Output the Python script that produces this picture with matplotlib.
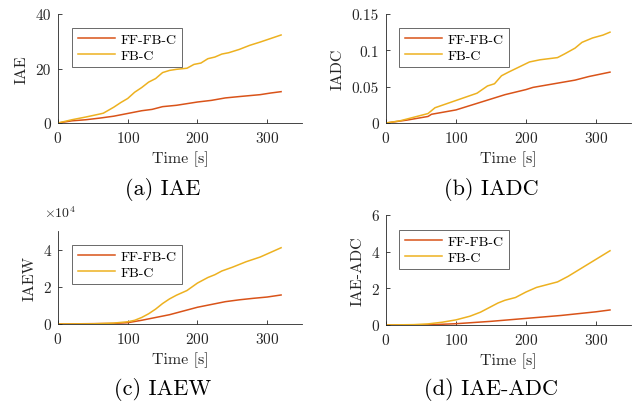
import matplotlib
matplotlib.use('Agg')
import matplotlib.pyplot as plt
from matplotlib.ticker import FuncFormatter

plt.rcParams['font.family'] = 'serif'
plt.rcParams['font.serif'] = ['cmr10']
plt.rcParams['mathtext.fontset'] = 'cm'
plt.rcParams['axes.formatter.use_mathtext'] = True

# colori stile MATLAB
c_ff = '#D95319'
c_fb = '#EDB120'
grey = '#262626'

# IAE
t_iae_ff = [0, 20, 40, 60, 80, 100, 120, 135, 150, 170, 200, 220, 240, 260, 290, 305, 320]
iae_ff = [0, 0.8, 1.2, 1.8, 2.5, 3.5, 4.5, 5.0, 6.0, 6.5, 7.7, 8.3, 9.2, 9.7, 10.4, 11.0, 11.5]
t_iae_fb = [0, 20, 40, 60, 65, 80, 90, 100, 110, 120, 130, 140, 150, 160, 170, 185, 195, 205,
            215, 225, 235, 245, 260, 275, 290, 305, 320]
iae_fb = [0, 1.2, 2.2, 3.3, 3.6, 5.8, 7.5, 9.0, 11.3, 13.0, 15.0, 16.3, 18.5, 19.3, 19.7, 20.1,
          21.5, 22.0, 23.6, 24.2, 25.3, 25.8, 27.0, 28.5, 29.7, 31.0, 32.3]

# IADC
t_iadc_ff = [0, 30, 60, 65, 100, 110, 130, 150, 170, 200, 210, 240, 270, 290, 320]
iadc_ff = [0, 0.004, 0.009, 0.012, 0.018, 0.021, 0.027, 0.033, 0.039, 0.046, 0.049, 0.054,
           0.059, 0.064, 0.070]
t_iadc_fb = [0, 20, 40, 60, 70, 85, 100, 115, 130, 145, 155, 165, 175, 190, 205, 220, 245, 255,
             270, 280, 295, 310, 320]
iadc_fb = [0, 0.003, 0.008, 0.013, 0.021, 0.026, 0.031, 0.036, 0.041, 0.051, 0.054, 0.065,
           0.070, 0.077, 0.084, 0.087, 0.090, 0.095, 0.103, 0.111, 0.117, 0.121, 0.125]

# IAEW (x 1e4)
t_iaew_ff = [0, 80, 100, 120, 140, 160, 180, 200, 220, 240, 260, 280, 300, 320]
iaew_ff = [0, 300, 700, 2000, 3500, 5000, 7000, 9000, 10500, 12000, 13000, 13800, 14500, 15600]
t_iaew_fb = [0, 50, 80, 100, 110, 120, 130, 140, 150, 160, 170, 185, 200, 215, 225, 235, 250,
             270, 290, 305, 320]
iaew_fb = [0, 100, 500, 1200, 2000, 3500, 5500, 8000, 11000, 13500, 15500, 18000, 22000, 25000,
           26500, 28500, 30500, 33500, 36000, 38500, 41000]

# IAE-ADC
t_ead_ff = [0, 60, 100, 150, 200, 250, 300, 320]
ead_ff = [0, 0.01, 0.07, 0.2, 0.36, 0.52, 0.72, 0.82]
t_ead_fb = [0, 40, 60, 80, 100, 120, 135, 150, 160, 170, 185, 200, 215, 230, 245, 260, 275,
            290, 305, 320]
ead_fb = [0, 0.02, 0.06, 0.15, 0.28, 0.48, 0.7, 1.0, 1.2, 1.35, 1.5, 1.8, 2.05, 2.2, 2.35,
          2.65, 3.0, 3.35, 3.7, 4.05]

W, H = 633, 406
fig = plt.figure(figsize=(W / 100, H / 100), dpi=100)


def pannello(px, top, bottom, right, ylab, ylim, yticks, tff, yff, tfb, yfb, leg, caption, cap_x,
             cap_y, scala=1.0):
    ax = fig.add_axes([px / W, (H - bottom) / H, (right - px) / W, (bottom - top) / H])
    ax.plot(tff, yff, color=c_ff, lw=1.1, label='FF-FB-C')
    ax.plot(tfb, yfb, color=c_fb, lw=1.1, label='FB-C')
    ax.set_xlim(0, 350)
    ax.set_ylim(*ylim)
    ax.set_xticks([0, 100, 200, 300])
    ax.set_yticks(yticks)
    ax.yaxis.set_major_formatter(FuncFormatter(lambda v, p: '%g' % round(v / scala, 6)))
    for s in ['top', 'right']:
        ax.spines[s].set_visible(False)
    for s in ['left', 'bottom']:
        ax.spines[s].set_color(grey)
        ax.spines[s].set_linewidth(0.6)
    ax.tick_params(direction='in', length=3, width=0.6, colors=grey, labelsize=11, pad=5)
    ax.set_xlabel('Time [s]', fontsize=11.5, color=grey, labelpad=4)
    ax.set_ylabel(ylab, fontsize=11.5, color=grey, labelpad=5)
    lg = ax.legend(loc='upper left', bbox_to_anchor=(leg[0] / W, (H - leg[1]) / H),
                   bbox_transform=fig.transFigure, fontsize=10, frameon=True, fancybox=False,
                   handlelength=2.7, borderpad=0.4, labelspacing=0.2, borderaxespad=0,
                   handletextpad=0.4)
    lg.get_frame().set_edgecolor(grey)
    lg.get_frame().set_linewidth(0.6)
    fig.text(cap_x / W, (H - cap_y) / H, caption, fontsize=16, ha='center', va='center')
    return ax


pannello(58, 15, 124, 302, 'IAE', (0, 40), [0, 20, 40], t_iae_ff, iae_ff, t_iae_fb, iae_fb,
         (72, 29), '(a) IAE', 163, 190)
pannello(386, 15, 124, 631, 'IADC', (0, 0.15), [0, 0.05, 0.1, 0.15], t_iadc_ff, iadc_ff,
         t_iadc_fb, iadc_fb, (399, 29), '(b) IADC', 491, 190)
pannello(58, 232, 325, 302, 'IAEW', (0, 50000), [0, 20000, 40000], t_iaew_ff, iaew_ff,
         t_iaew_fb, iaew_fb, (72, 246), '(c) IAEW', 163, 390, scala=1e4)
fig.text(44 / W, (H - 213) / H, r'$\times 10^4$', fontsize=10, color=grey, va='center')
pannello(386, 216, 326, 631, 'IAE-ADC', (0, 6), [0, 2, 4, 6], t_ead_ff, ead_ff, t_ead_fb, ead_fb,
         (399, 231), '(d) IAE-ADC', 491, 390)

plt.savefig('out.png', dpi=100)
